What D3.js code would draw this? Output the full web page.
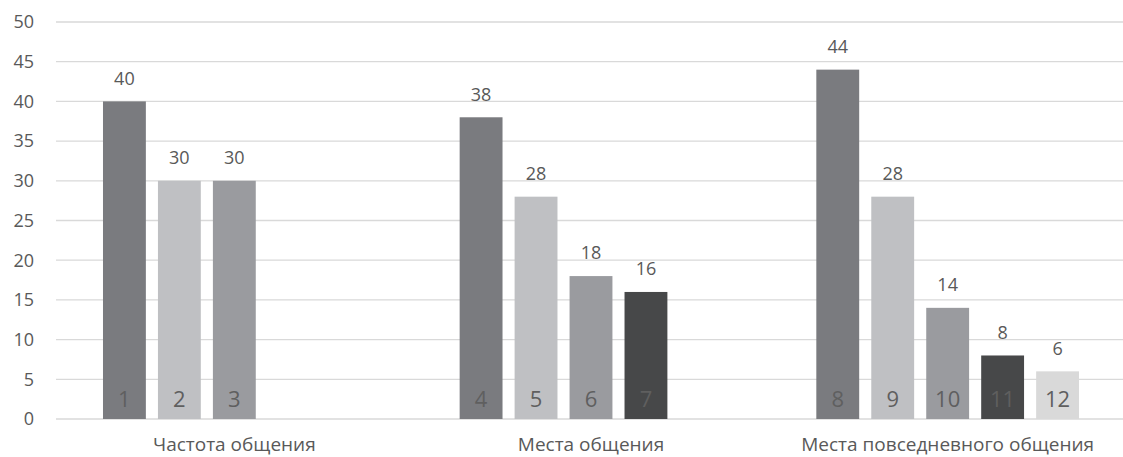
<!DOCTYPE html>
<html>
<head>
<meta charset="utf-8">
<script src="https://cdn.jsdelivr.net/npm/d3@7"></script>
<style>
  body { margin: 0; background: #fff; }
  text { font-family: "Open Sans", sans-serif; fill: #595959; }
</style>
</head>
<body>
<div id="chart"></div>
<script>
// data
const categories = ["Частота общения", "Места общения", "Места повседневного общения"];
const slots = ["s1", "s2", "s3", "s4", "s5"];
const barLabels = [[1, 2, 3], [4, 5, 6, 7], [8, 9, 10, 11, 12]];
const barValues = [[40, 30, 30], [38, 28, 18, 16], [44, 28, 14, 8, 6]];
const slotColors = ["#7a7b7f", "#bfc0c3", "#9a9b9f", "#474849", "#d9d9d9"];
const yTicks = [0, 5, 10, 15, 20, 25, 30, 35, 40, 45, 50];

const width = 1123, height = 457;

const svg = d3.select("#chart")
  .append("svg")
  .attr("width", width)
  .attr("height", height);

const x0 = d3.scaleBand()
  .domain(categories)
  .range([56, 1126]);

const x1 = d3.scaleBand()
  .domain(slots)
  .range([0, x0.bandwidth()])
  .paddingInner(0.22)
  .paddingOuter(0.855);

const y = d3.scaleLinear()
  .domain([0, 50])
  .range([419, 22]);

// gridlines
svg.append("g")
  .selectAll("line")
  .data(yTicks)
  .enter()
  .append("line")
    .attr("x1", 56)
    .attr("x2", width)
    .attr("y1", d => y(d))
    .attr("y2", d => y(d))
    .style("stroke", "#d9d9d9")
    .style("stroke-width", 1.3);

// y tick labels
svg.append("g")
  .selectAll("text")
  .data(yTicks)
  .enter()
  .append("text")
    .attr("x", 34)
    .attr("y", d => y(d))
    .attr("dy", "0.35em")
    .attr("text-anchor", "end")
    .style("font-size", "18px")
    .text(d => d);

// flatten the bars
const bars = [];
categories.forEach((c, i) => {
  barValues[i].forEach((v, j) => {
    bars.push({cat: c, slot: slots[j], value: v, label: barLabels[i][j], color: slotColors[j]});
  });
});

const g = svg.append("g");

g.selectAll("rect")
  .data(bars)
  .enter()
  .append("rect")
    .attr("x", d => x0(d.cat) + x1(d.slot))
    .attr("y", d => y(d.value))
    .attr("width", x1.bandwidth())
    .attr("height", d => y(0) - y(d.value))
    .style("fill", d => d.color);

// value labels above bars
g.selectAll(".val")
  .data(bars)
  .enter()
  .append("text")
    .attr("class", "val")
    .attr("x", d => x0(d.cat) + x1(d.slot) + x1.bandwidth() / 2)
    .attr("y", d => y(d.value) - 23)
    .attr("dy", "0.35em")
    .attr("text-anchor", "middle")
    .style("font-size", "18px")
    .text(d => d.value);

// numbers inside bars
g.selectAll(".num")
  .data(bars)
  .enter()
  .append("text")
    .attr("class", "num")
    .attr("x", d => x0(d.cat) + x1(d.slot) + x1.bandwidth() / 2)
    .attr("y", y(0) - 20)
    .attr("dy", "0.35em")
    .attr("text-anchor", "middle")
    .style("font-size", "22px")
    .style("fill", "#5f5f5f")
    .text(d => d.label);

// category labels
svg.append("g")
  .selectAll("text")
  .data(categories)
  .enter()
  .append("text")
    .attr("x", d => x0(d) + x0.bandwidth() / 2)
    .attr("y", 451)
    .attr("text-anchor", "middle")
    .style("font-size", "19px")
    .text(d => d);
</script>
</body>
</html>
